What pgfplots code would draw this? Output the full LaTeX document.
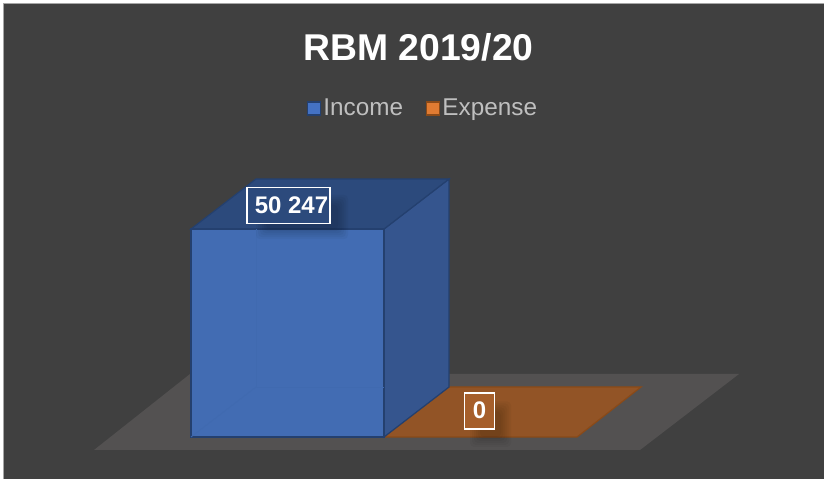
\documentclass[border=0pt]{standalone}
\usepackage{fontspec}
\setmainfont{Liberation Sans}
\usepackage{pgfplots}
\pgfplotsset{compat=1.18}
\definecolor{bgc}{HTML}{404040}
\definecolor{floorc}{HTML}{535151}
\definecolor{frontc}{HTML}{426CB3}
\definecolor{sidec}{HTML}{35558E}
\definecolor{topc}{HTML}{2C4A7C}
\definecolor{edgec}{HTML}{24406F}
\definecolor{innerc}{HTML}{406AB0}
\definecolor{orc}{HTML}{925426}
\definecolor{ored}{HTML}{8A4A18}
\definecolor{lblo}{HTML}{A65F2B}
\definecolor{legb}{HTML}{4472C4}
\definecolor{lego}{HTML}{E07B32}
\definecolor{legtxt}{HTML}{BFBFBF}
\begin{document}
\begin{tikzpicture}[x=1pt,y=1pt]
\useasboundingbox (0,0) rectangle (824,479);
\fill[white] (0,0) rectangle (824,479);
\fill[bgc] (3,0) rectangle (824,476);
\draw[gray!70,line width=1pt] (3.5,0) -- (3.5,475.5) -- (824,475.5);
\begin{axis}[
  at={(0,0)},anchor=south west,
  width=824pt,height=479pt,scale only axis,
  xmin=0,xmax=824,
  ymin=-10146,ymax=105567,
  hide axis,clip=false,
  legend columns=2,
  legend cell align=left,
  legend image code/.code={
    \draw[#1,line width=1.4pt] (0pt,-6.5pt) rectangle (13pt,6.5pt);
  },
  legend style={draw=none,fill=none,at={(axis cs:423,79400)},anchor=center,
    font=\fontsize{24.3}{26}\selectfont,text=legtxt,
    /tikz/every even column/.style={column sep=21pt},
    /tikz/every odd column/.style={column sep=0pt},
    inner sep=0pt,
    nodes={inner xsep=2pt,inner ysep=1pt}},
]
% floor
\addplot[fill=floorc,draw=none,forget plot] coordinates {(94,-3140)(640,-3140)(739,15219)(190,15219)} --cycle;
% expense (value 0), flat
\addplot[fill=orc,draw=ored,line width=1.2pt,forget plot] coordinates {(384,0)(577,0)(641,12079)(449,12079)} --cycle;
% income: side, top, front
\addplot[fill=sidec,draw=edgec,line width=1.2pt,forget plot] coordinates {(384,0)(449,12079)(449,62326)(384,50247)} --cycle;
\addplot[fill=topc,draw=edgec,line width=1.2pt,forget plot] coordinates {(191,50247)(256,62326)(449,62326)(384,50247)} --cycle;
\addplot[fill=frontc,draw=edgec,line width=1.5pt,forget plot] coordinates {(191,0)(384,0)(384,50247)(191,50247)} --cycle;
% faint hidden edges seen through the front face
\addplot[draw=innerc,line width=0.8pt,forget plot] coordinates {(256,50247)(256,12079)(384,12079)};
\addplot[draw=innerc,line width=0.8pt,forget plot] coordinates {(191,0)(256,12079)};
% legend entries
\addlegendimage{fill=legb,draw=edgec}
\addlegendentry{Income}
\addlegendimage{fill=lego,draw=ored}
\addlegendentry{Expense}
% data label shadows
\foreach \i in {0,2,4,6,8,10}{
  \edef\temp{\noexpand\fill[black,opacity=0.035,rounded corners=4pt]
    (axis cs:{256+\i},{47800+\i*241}) rectangle (axis cs:{348-\i},{58500-\i*241});
    \noexpand\fill[black,opacity=0.035,rounded corners=4pt]
    (axis cs:{470+\i},{-2400+\i*241}) rectangle (axis cs:{511-\i},{8600-\i*241});}
  \temp
}
\node[draw=white,line width=1.3pt,fill=topc,text=white,font=\fontsize{24}{26}\selectfont\bfseries,
  minimum width=83pt,minimum height=36pt,inner sep=0pt] at (axis cs:288.5,56000) {\hspace{6pt}\raisebox{1pt}{50 247}};
\node[draw=white,line width=1.3pt,fill=lblo,text=white,font=\fontsize{24}{26}\selectfont\bfseries,
  minimum width=30pt,minimum height=36pt,inner sep=0pt] at (axis cs:479.5,6300) {\raisebox{1pt}{0}};
\end{axis}
\node[text=white,font=\fontsize{37.3}{40}\selectfont\bfseries,anchor=center] at (418.5,431.5) {RBM 2019/20};
\end{tikzpicture}
\end{document}
